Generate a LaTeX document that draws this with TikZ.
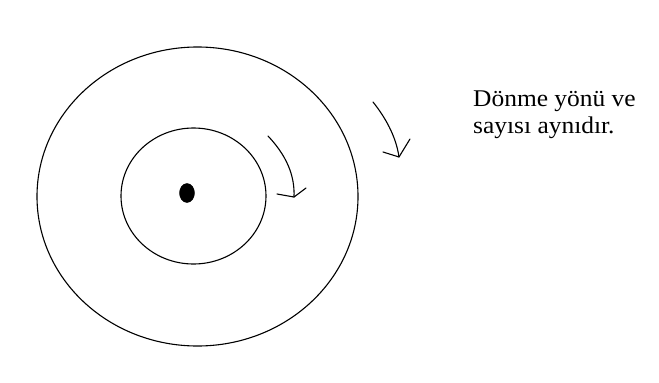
\documentclass[tikz,border=0pt]{standalone}
\usepackage{fontspec}
\setmainfont{Liberation Serif}[FakeStretch=1.06]
\usepackage{tikz}
\usetikzlibrary{arrows}

\tikzset{
  ring/.style={line width=1.1pt},
  hook/.style={line width=1.1pt, line cap=round, line join=round},
  label/.style={anchor=base west, inner sep=0pt, font=\fontsize{24}{27}\selectfont}
}

\begin{document}
\begin{tikzpicture}[x=1pt,y=-1pt]
    \useasboundingbox (0,0) rectangle (659,383);
    \def\outerRing{(197.5,196.5) ellipse (160.5 and 149.5)};
    \def\innerRing{(193.5,196) ellipse (72.5 and 68)};
	\draw[ring] \outerRing;
	\draw[ring] \innerRing;
	\filldraw[black] (187,193) ellipse (7.5 and 9.5);
	\coordinate (inA) at (268,136);
	\coordinate (inB) at (294,197);
	\coordinate (outA) at (373,102);
	\coordinate (outB) at (399,157);
	\draw[hook] (inA) .. controls (286,155) and (295,175) .. (inB);
	\draw[hook] (277,194) -- (inB) -- (306,188);
	\draw[hook] (outA) .. controls (385,117) and (396,136) .. (outB);
	\draw[hook] (383,152) -- (outB) -- (410,139);
	\node[label] (yon) at (473,106) {Dönme yönü ve};
	\node[label] (sayi) at (473,133) {sayısı aynıdır.};
\end{tikzpicture}
\end{document}
